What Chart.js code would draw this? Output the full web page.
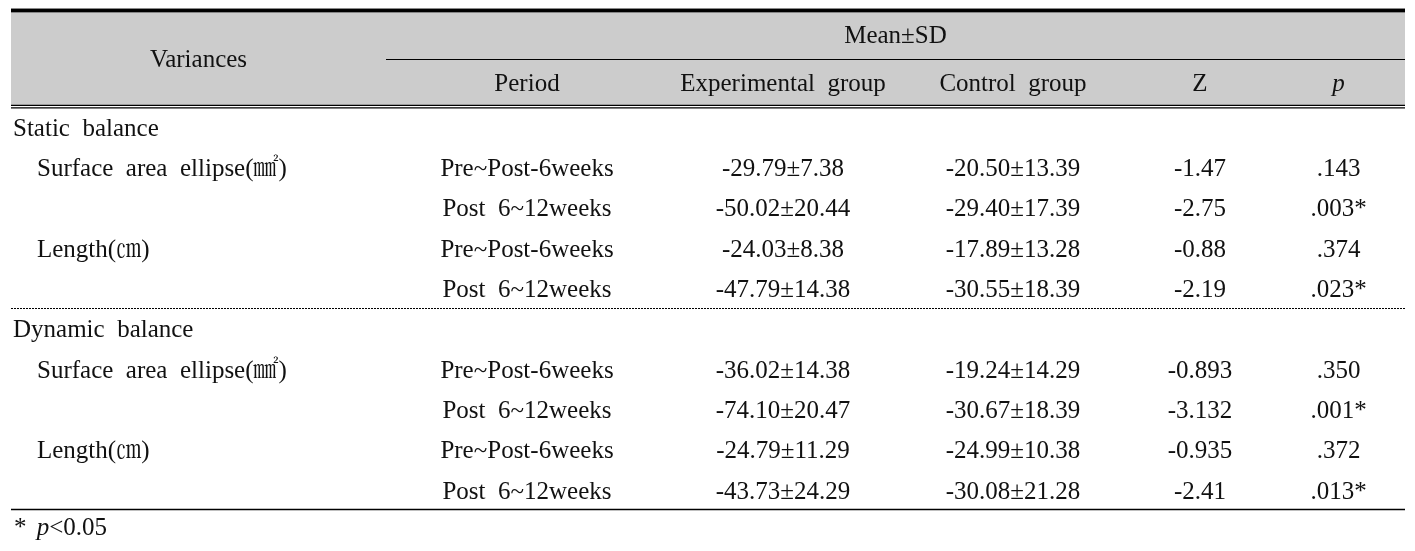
<!DOCTYPE html>
<html>
<head>
<meta charset="utf-8">
<script src="https://cdn.jsdelivr.net/npm/chart.js@4.4.1/dist/chart.umd.min.js"></script>
<style>
html,body{margin:0;padding:0;background:#fff;}
#wrap{width:1415px;height:551px;position:relative;}
</style>
</head>
<body>
<div id="wrap"><canvas id="c"></canvas></div>
<script>
// ---- data ----
const rowHeaderTitle = 'Variances';
const groupHeader = 'Mean±SD';
const colHeaders = ['Period', 'Experimental  group', 'Control  group', 'Z', 'p'];
const sections = ['Static  balance', 'Dynamic  balance'];
const measures = ['Surface  area  ellipse(㎟)', 'Length(㎝)'];
const periods = ['Pre~Post-6weeks', 'Post  6~12weeks'];
const expGroup = ['-29.79±7.38', '-50.02±20.44', '-24.03±8.38', '-47.79±14.38',
                  '-36.02±14.38', '-74.10±20.47', '-24.79±11.29', '-43.73±24.29'];
const ctrlGroup = ['-20.50±13.39', '-29.40±17.39', '-17.89±13.28', '-30.55±18.39',
                   '-19.24±14.29', '-30.67±18.39', '-24.99±10.38', '-30.08±21.28'];
const zValues = ['-1.47', '-2.75', '-0.88', '-2.19', '-0.893', '-3.132', '-0.935', '-2.41'];
const pValues = ['.143', '.003*', '.374', '.023*', '.350', '.001*', '.372', '.013*'];
const footnote = ['*', 'p', '<0.05'];

// ---- layout (styles, not data) ----
const colEdges = [11, 386, 668, 898, 1128, 1272, 1405]; // x-scale units
const headerRowH = 1.2;            // in row units
const FONT = '"Liberation Serif", "Noto Serif CJK KR", "Noto Sans CJK KR", serif';
const FSIZE = 25;
const INK = '#111';
const TEXT_DY = 1.2;               // small baseline nudge (px)

// build body rows: section row, then measure x period rows
const bodyRows = [];
let k = 0;
sections.forEach((s) => {
  bodyRows.push({label: s, indent: 0, cells: null});
  measures.forEach((m) => {
    periods.forEach((p, pi) => {
      bodyRows.push({label: pi === 0 ? m : '', indent: 1,
        cells: [p, expGroup[k], ctrlGroup[k], zValues[k], pValues[k]]});
      k++;
    });
  });
});

const colCenter = (i) => (colEdges[i + 1] + colEdges[i + 2]) / 2;
const datasets = colHeaders.map((h, ci) => ({
  label: h,
  data: bodyRows.map((r, ri) => r.cells ? {x: colCenter(ci), y: ri, t: r.cells[ci]} : null).filter(Boolean),
  pointRadius: 0, showLine: false
}));
datasets.push({
  label: 'rowlabels',
  data: bodyRows.map((r, ri) => ({x: colEdges[0] + (r.indent ? 26 : 2), y: ri, t: r.label, left: true})),
  pointRadius: 0, showLine: false
});

const rowsN = bodyRows.length;
const tablePlugin = {
  id: 'table',
  beforeDatasetsDraw(chart) {
    const {ctx, scales: {x, y}} = chart;
    const L = x.getPixelForValue(colEdges[0]);
    const R = x.getPixelForValue(colEdges[colEdges.length - 1]);
    const headBottom = -0.5;
    const midLine = headBottom - headerRowH;
    const top = headBottom - 2 * headerRowH;
    ctx.save();
    // grey header band
    ctx.fillStyle = '#cccccc';
    const yt = y.getPixelForValue(top), yb = y.getPixelForValue(headBottom);
    ctx.fillRect(L, yt, R - L, yb - 2.5 - yt);
    // top thick line
    ctx.fillStyle = '#000';
    ctx.fillRect(L, yt - 2.5, R - L, 3.8);
    // line under Mean±SD
    const ym = Math.round(y.getPixelForValue(midLine)) + 0.5;
    ctx.strokeStyle = '#000';
    ctx.lineWidth = 1.2;
    ctx.beginPath(); ctx.moveTo(x.getPixelForValue(colEdges[1]), ym); ctx.lineTo(R, ym); ctx.stroke();
    // double line
    ctx.lineWidth = 1.3;
    ctx.beginPath(); ctx.moveTo(L, yb - 2.5); ctx.lineTo(R, yb - 2.5); ctx.stroke();
    ctx.beginPath(); ctx.moveTo(L, yb); ctx.lineTo(R, yb); ctx.stroke();
    // dotted line between sections
    const perSection = 1 + measures.length * periods.length;
    for (let s = 1; s < sections.length; s++) {
      const yd = Math.round(y.getPixelForValue(s * perSection - 0.5)) + 0.5 - 1;
      ctx.lineWidth = 1;
      ctx.setLineDash([2, 1]);
      ctx.beginPath(); ctx.moveTo(L, yd); ctx.lineTo(R, yd); ctx.stroke();
      ctx.setLineDash([]);
    }
    // bottom line
    const ybot = Math.round(y.getPixelForValue(rowsN - 0.5)) - 1.5;
    ctx.lineWidth = 1.5;
    ctx.beginPath(); ctx.moveTo(L, ybot); ctx.lineTo(R, ybot); ctx.stroke();

    // header texts
    ctx.fillStyle = INK;
    ctx.font = FSIZE + 'px ' + FONT;
    ctx.textBaseline = 'middle';
    ctx.textAlign = 'center';
    ctx.fillText(rowHeaderTitle, x.getPixelForValue((colEdges[0] + colEdges[1]) / 2), y.getPixelForValue(midLine) + TEXT_DY);
    ctx.fillText(groupHeader, x.getPixelForValue((colEdges[1] + colEdges[colEdges.length - 1]) / 2), y.getPixelForValue(top + headerRowH / 2) + TEXT_DY);
    colHeaders.forEach((h, ci) => {
      ctx.font = (h === 'p' ? 'italic ' : '') + FSIZE + 'px ' + FONT;
      ctx.fillText(h, x.getPixelForValue(colCenter(ci)), y.getPixelForValue(midLine + headerRowH / 2) + TEXT_DY);
    });
    // footnote
    ctx.textAlign = 'left';
    const yf = y.getPixelForValue(rowsN - 0.5 + 0.4) + TEXT_DY;
    let fx = x.getPixelForValue(colEdges[0]) + 3;
    ctx.font = FSIZE + 'px ' + FONT;
    ctx.fillText(footnote[0], fx, yf); fx += ctx.measureText(footnote[0] + ' ').width + 4;
    ctx.font = 'italic ' + FSIZE + 'px ' + FONT;
    ctx.fillText(footnote[1], fx, yf); fx += ctx.measureText(footnote[1]).width;
    ctx.font = FSIZE + 'px ' + FONT;
    ctx.fillText(footnote[2], fx, yf);
    ctx.restore();
  },
  afterDatasetsDraw(chart) {
    const {ctx} = chart;
    ctx.save();
    ctx.fillStyle = INK;
    ctx.font = FSIZE + 'px ' + FONT;
    ctx.textBaseline = 'middle';
    chart.data.datasets.forEach((ds, di) => {
      const meta = chart.getDatasetMeta(di);
      meta.data.forEach((el, i) => {
        const d = ds.data[i];
        ctx.textAlign = d.left ? 'left' : 'center';
        ctx.fillText(d.t, el.x, el.y + TEXT_DY);
      });
    });
    ctx.restore();
  }
};

// y scale: row units, first body row near y=128, row spacing ~40.3px
const rowPx = 40.33, firstRowPx = 128, H = 551;
const yMin = -firstRowPx / rowPx;
const yMax = yMin + H / rowPx;

new Chart(document.getElementById('c'), {
  type: 'scatter',
  data: {datasets},
  options: {
    responsive: true, maintainAspectRatio: false, animation: false,
    layout: {padding: 0},
    plugins: {legend: {display: false}, tooltip: {enabled: false}},
    scales: {
      x: {type: 'linear', min: 0, max: 1415, display: false},
      y: {type: 'linear', min: yMin, max: yMax, reverse: true, display: false}
    }
  },
  plugins: [tablePlugin]
});
</script>
</body>
</html>
